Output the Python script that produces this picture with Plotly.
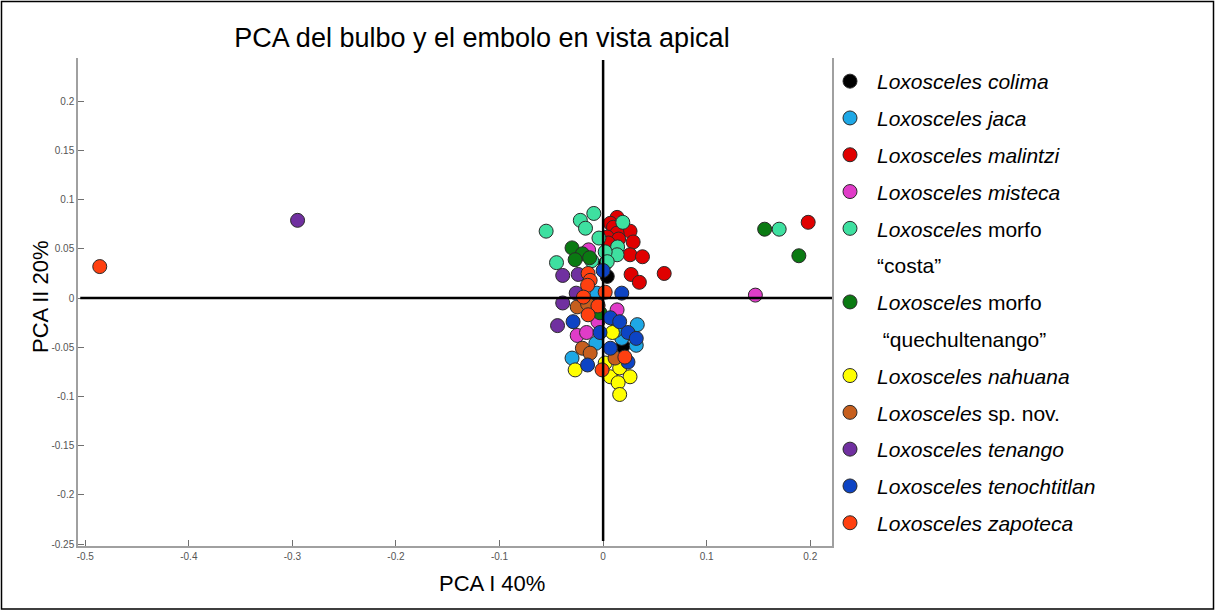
import plotly.graph_objects as go

# ---- data ----
species = [
    "<i>Loxosceles colima</i>",
    "<i>Loxosceles jaca</i>",
    "<i>Loxosceles malintzi</i>",
    "<i>Loxosceles misteca</i>",
    "<i>Loxosceles</i> morfo",
    "<i>Loxosceles</i> morfo",
    "<i>Loxosceles nahuana</i>",
    "<i>Loxosceles</i> sp. nov.",
    "<i>Loxosceles tenango</i>",
    "<i>Loxosceles tenochtitlan</i>",
    "<i>Loxosceles zapoteca</i>",
]
continuation = {4: "“costa”", 5: " “quechultenango”"}

colors = ["#000000", "#1ea8e6", "#e00000", "#e03cc8", "#3ee0a0", "#0a7a12",
          "#ffff00", "#c65f1e", "#7030a0", "#0d44c4", "#ff4010"]

colima_x = [0.004, 0.002, 0.019, -0.005]
colima_y = [0.022, 0.035, -0.049, -0.007]

jaca_x = [-0.006, 0.033, 0.032, 0.018, -0.007, -0.030, 0.012]
jaca_y = [0.005, -0.027, -0.048, -0.041, -0.046, -0.061, -0.033]

malintzi_x = [0.0135, 0.007, 0.010, 0.026, 0.0135, 0.004, 0.015, 0.029, 0.005,
              0.026, 0.038, 0.027, 0.035, 0.059, 0.198]
malintzi_y = [0.082, 0.076, 0.072, 0.068, 0.066, 0.062, 0.060, 0.057, 0.056,
              0.044, 0.042, 0.024, 0.016, 0.025, 0.077]

misteca_x = [-0.014, 0.0135, -0.005, -0.025, -0.016, 0.147]
misteca_y = [0.049, -0.012, -0.024, -0.038, -0.035, 0.003]

costa_x = [-0.055, -0.009, -0.022, -0.017, 0.019, -0.004, 0.014, 0.0135, 0.002,
           -0.011, -0.045, 0.004, 0.170]
costa_y = [0.068, 0.086, 0.079, 0.071, 0.077, 0.061, 0.052, 0.044, 0.047,
           0.038, 0.036, 0.037, 0.070]

quech_x = [-0.030, -0.020, -0.027, -0.013, 0.156, 0.189, -0.003]
quech_y = [0.051, 0.045, 0.039, 0.041, 0.070, 0.043, -0.015]

nahuana_x = [0.009, -0.027, 0.007, 0.016, 0.026, 0.0145, 0.016, 0.002]
nahuana_y = [-0.035, -0.073, -0.080, -0.071, -0.080, -0.086, -0.098, -0.066]

spnov_x = [-0.025, -0.020, -0.0125, 0.0115, -0.015]
spnov_y = [-0.009, -0.051, -0.056, -0.061, -0.006]

tenango_x = [-0.039, -0.024, -0.026, -0.039, -0.044, -0.295]
tenango_y = [0.023, 0.024, 0.005, -0.005, -0.028, 0.079]

tenoch_x = [0.000, 0.018, -0.029, -0.003, 0.007, 0.016, 0.024, 0.032, 0.007,
            -0.015, 0.024]
tenoch_y = [0.028, 0.005, -0.024, -0.035, -0.020, -0.024, -0.035, -0.041,
            -0.051, -0.068, -0.065]

zapoteca_x = [-0.486, -0.0145, -0.0125, -0.015, -0.019, 0.002, -0.005, -0.0145,
              0.021, -0.001]
zapoteca_y = [0.032, 0.025, 0.018, 0.013, 0.001, 0.006, -0.008, -0.017,
              -0.060, -0.073]

series_x = [colima_x, jaca_x, malintzi_x, misteca_x, costa_x, quech_x,
            nahuana_x, spnov_x, tenango_x, tenoch_x, zapoteca_x]
series_y = [colima_y, jaca_y, malintzi_y, misteca_y, costa_y, quech_y,
            nahuana_y, spnov_y, tenango_y, tenoch_y, zapoteca_y]

x_tickvals = [-0.5, -0.4, -0.3, -0.2, -0.1, 0, 0.1, 0.2]
x_ticktext = ["-0.5", "-0.4", "-0.3", "-0.2", "-0.1", "0", "0.1", "0.2"]
y_tickvals = [0.2, 0.15, 0.1, 0.05, 0, -0.05, -0.1, -0.15, -0.2, -0.25]
y_ticktext = ["0.2", "0.15", "0.1", "0.05", "0", "-0.05", "-0.1", "-0.15", "-0.2", "-0.25"]

CROSS_AT = 0.0

# ---- figure ----
fig = go.Figure()
group = 0
for i, name in enumerate(species):
    fig.add_trace(go.Scatter(
        x=series_x[i], y=series_y[i], mode="markers", name=name,
        legendgroup="g%d" % group,
        marker=dict(size=14, color=colors[i], line=dict(color="#2a2a2a", width=1)),
    ))
    group += 1
    if i in continuation:
        fig.add_trace(go.Scatter(
            x=[None], y=[None], mode="markers", name=continuation[i],
            legendgroup="g%d" % group,
            marker=dict(size=14, color="rgba(0,0,0,0)", line=dict(width=0)),
            hoverinfo="skip",
        ))
        group += 1

FONT = "Arial, Liberation Sans, sans-serif"
L, R, T, B = 78, 383, 58, 65
PW, PH = 1215 - L - R, 611 - T - B

fig.update_layout(
    width=1215, height=611,
    margin=dict(l=L, r=R, t=T, b=B, autoexpand=False),
    paper_bgcolor="white", plot_bgcolor="white",
    font=dict(family=FONT, color="black"),
    title=dict(text="PCA del bulbo y el embolo en vista apical",
               x=482 / 1215, xref="container", xanchor="center",
               y=1 - 38 / 611, yref="container", yanchor="middle",
               font=dict(size=27, family=FONT, color="black")),
    showlegend=True,
    legend=dict(
        xref="container", yref="container",
        x=823 / 1215, xanchor="left",
        y=1 - 61 / 611, yanchor="top",
        bgcolor="rgba(0,0,0,0)",
        font=dict(size=21, family=FONT, color="black"),
        traceorder="grouped", tracegroupgap=6.5,
        itemwidth=44, maxheight=600,
    ),
    xaxis=dict(range=[-0.507, 0.221], showgrid=False, zeroline=False,
               showline=True, linecolor="#a0a0a0", linewidth=1.5, mirror=False,
               ticks="inside", ticklen=6, tickcolor="#707070", tickwidth=1,
               tickvals=x_tickvals, ticktext=x_ticktext,
               tickfont=dict(size=10, color="#555555", family=FONT)),
    yaxis=dict(range=[-0.252, 0.244], showgrid=False, zeroline=False,
               showline=True, linecolor="#a0a0a0", linewidth=1.5, mirror=True,
               ticks="inside", ticklen=6, tickcolor="#707070", tickwidth=1,
               tickvals=y_tickvals, ticktext=y_ticktext,
               tickfont=dict(size=10, color="#555555", family=FONT)),
    annotations=[
        dict(text="PCA I 40%", xref="paper", yref="paper",
             x=(492 - L) / PW, y=(611 - B - 583) / PH,
             xanchor="center", yanchor="middle", showarrow=False,
             font=dict(size=22, family=FONT, color="black")),
        dict(text="PCA II 20%", xref="paper", yref="paper",
             x=(40 - L) / PW, y=(611 - B - 297) / PH, textangle=-90,
             xanchor="center", yanchor="middle", showarrow=False,
             font=dict(size=22, family=FONT, color="black")),
    ],
    shapes=[
        dict(type="line", xref="x", yref="paper", x0=CROSS_AT, x1=CROSS_AT,
             y0=0.01, y1=0.996, line=dict(color="black", width=2.5), layer="above"),
        dict(type="line", xref="paper", yref="y", x0=0.003, x1=1, y0=CROSS_AT,
             y1=CROSS_AT, line=dict(color="black", width=2.5), layer="above"),
        dict(type="rect", xref="paper", yref="paper",
             x0=(1.5 - L) / PW, x1=(1213.5 - L) / PW,
             y0=(611 - B - 609) / PH, y1=(611 - B - 1.5) / PH,
             line=dict(color="black", width=1.5), layer="below"),
    ],
)

fig.write_html("out.html")
